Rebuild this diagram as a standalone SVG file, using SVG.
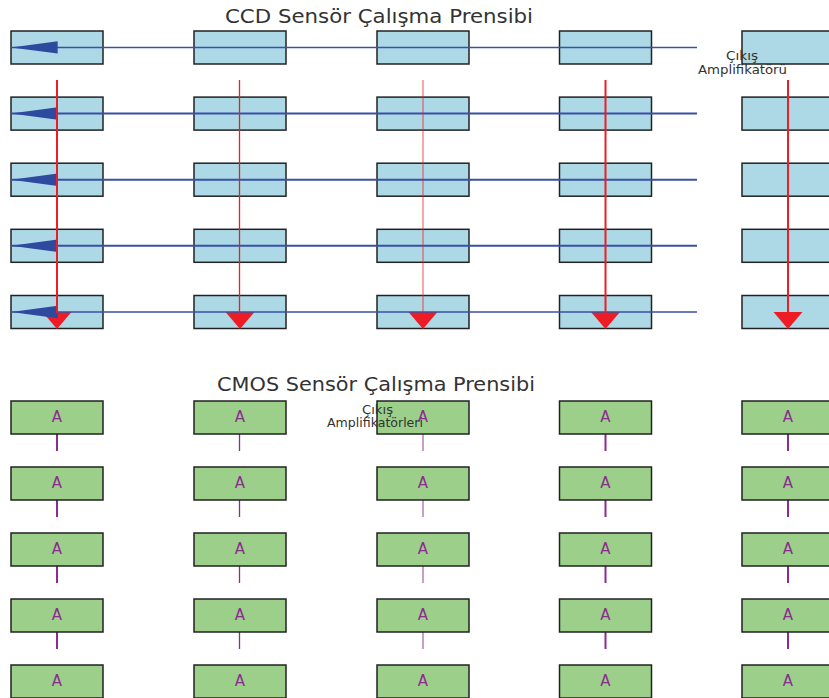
<svg xmlns="http://www.w3.org/2000/svg" width="829" height="698" viewBox="0 0 829 698">
<style>
.title{font-family:"DejaVu Sans",sans-serif;font-size:19px;fill:#333}
.lbl{font-family:"DejaVu Sans",sans-serif;font-size:12px;fill:#333}
.ccd{fill:#add8e6;stroke:#222;stroke-width:1.5}
.cmos{fill:#9ccf8a;stroke:#222;stroke-width:1.5}
.a{font-family:"DejaVu Sans",sans-serif;font-size:15px;fill:#8a2d8e;text-anchor:middle}
.bl{stroke:#3a4fa6;fill:none}
.bh{fill:#2e4a9e}
.rl{stroke:#ee1c25;fill:none}
.rh{fill:#ee1c25}
.pl{stroke:#8e2a90;fill:none}
</style>
<rect width="829" height="698" fill="#fff"/>
<text class="title" x="225" y="23" textLength="308" lengthAdjust="spacingAndGlyphs">CCD Sensör Çalışma Prensibi</text>
<text class="title" x="217" y="391" textLength="318" lengthAdjust="spacingAndGlyphs">CMOS Sensör Çalışma Prensibi</text>
<g id="ccd-nodes">
<g id="ccd-r1"><rect class="ccd" x="11" y="31" width="92" height="33"/><rect class="ccd" x="194" y="31" width="92" height="33"/><rect class="ccd" x="377" y="31" width="92" height="33"/><rect class="ccd" x="559.5" y="31" width="92" height="33"/><rect class="ccd" x="742" y="31" width="92" height="33"/></g>
<g id="ccd-r2"><rect class="ccd" x="11" y="97.1" width="92" height="33"/><rect class="ccd" x="194" y="97.1" width="92" height="33"/><rect class="ccd" x="377" y="97.1" width="92" height="33"/><rect class="ccd" x="559.5" y="97.1" width="92" height="33"/><rect class="ccd" x="742" y="97.1" width="92" height="33"/></g>
<g id="ccd-r3"><rect class="ccd" x="11" y="163.2" width="92" height="33"/><rect class="ccd" x="194" y="163.2" width="92" height="33"/><rect class="ccd" x="377" y="163.2" width="92" height="33"/><rect class="ccd" x="559.5" y="163.2" width="92" height="33"/><rect class="ccd" x="742" y="163.2" width="92" height="33"/></g>
<g id="ccd-r4"><rect class="ccd" x="11" y="229.3" width="92" height="33"/><rect class="ccd" x="194" y="229.3" width="92" height="33"/><rect class="ccd" x="377" y="229.3" width="92" height="33"/><rect class="ccd" x="559.5" y="229.3" width="92" height="33"/><rect class="ccd" x="742" y="229.3" width="92" height="33"/></g>
<g id="ccd-r5"><rect class="ccd" x="11" y="295.5" width="92" height="33"/><rect class="ccd" x="194" y="295.5" width="92" height="33"/><rect class="ccd" x="377" y="295.5" width="92" height="33"/><rect class="ccd" x="559.5" y="295.5" width="92" height="33"/><rect class="ccd" x="742" y="295.5" width="92" height="33"/></g>
</g>
<g id="connectors">
<g id="red-heads">
<polygon class="rh" points="42.5,312 71.5,312 57,329"/>
<polygon class="rh" points="225.5,312 254.5,312 240,329"/>
<polygon class="rh" points="408.5,312 437.5,312 423,329"/>
<polygon class="rh" points="591,312 620,312 605.5,329"/>
<polygon class="rh" points="773.5,312 802.5,312 788,329"/>
</g>
<g id="blue-arrows">
<line class="bl" x1="11" y1="47.5" x2="697" y2="47.5" stroke-width="1.3"/>
<line class="bl" x1="11" y1="113.6" x2="697" y2="113.6" stroke-width="2"/>
<line class="bl" x1="11" y1="179.7" x2="697" y2="179.7" stroke-width="2"/>
<line class="bl" x1="11" y1="245.8" x2="697" y2="245.8" stroke-width="2"/>
<line class="bl" x1="11" y1="312" x2="697" y2="312" stroke-width="1.6"/>
<polygon class="bh" points="11,47.5 57.7,41.2 57.7,53.6"/>
<polygon class="bh" points="11,113.6 57.7,107.3 57.7,119.8"/>
<polygon class="bh" points="11,179.7 57.7,173.4 57.7,185.9"/>
<polygon class="bh" points="11,245.8 57.7,239.5 57.7,252"/>
<polygon class="bh" points="11,312 57.7,305.7 57.7,318.2"/>
</g>
<g id="red-lines">
<line class="rl" x1="57" y1="80" x2="57" y2="313" stroke-width="2"/>
<line class="rl" x1="239.5" y1="80" x2="239.5" y2="313" stroke-width="1.3"/>
<line class="rl" x1="423" y1="80" x2="423" y2="313" stroke-width="1.3" stroke-opacity="0.6"/>
<line class="rl" x1="605.5" y1="80" x2="605.5" y2="313" stroke-width="2"/>
<line class="rl" x1="788" y1="80" x2="788" y2="313" stroke-width="2"/>
</g>
<g id="purple-lines">
<path class="pl" stroke-width="2" d="M57,434V451M57,500V517M57,566V583M57,632V649"/>
<path class="pl" stroke-width="1.3" d="M239.5,434V451M239.5,500V517M239.5,566V583M239.5,632V649"/>
<path class="pl" stroke-width="1.3" stroke-opacity="0.7" d="M423,434V451M423,500V517M423,566V583M423,632V649"/>
<path class="pl" stroke-width="2" d="M605.5,434V451M605.5,500V517M605.5,566V583M605.5,632V649"/>
<path class="pl" stroke-width="2" d="M788,434V451M788,500V517M788,566V583M788,632V649"/>
</g>
</g>
<g id="ccd-label"><text class="lbl" x="726" y="60" textLength="32" lengthAdjust="spacingAndGlyphs">Çıkış</text><text class="lbl" x="698" y="74" textLength="89" lengthAdjust="spacingAndGlyphs">Amplifikatörü</text></g>
<g id="cmos-nodes">
<g id="cmos-r1"><rect class="cmos" x="11" y="401" width="92" height="33"/><rect class="cmos" x="194" y="401" width="92" height="33"/><rect class="cmos" x="377" y="401" width="92" height="33"/><rect class="cmos" x="559.5" y="401" width="92" height="33"/><rect class="cmos" x="742" y="401" width="92" height="33"/></g>
<g id="cmos-r2"><rect class="cmos" x="11" y="467" width="92" height="33"/><rect class="cmos" x="194" y="467" width="92" height="33"/><rect class="cmos" x="377" y="467" width="92" height="33"/><rect class="cmos" x="559.5" y="467" width="92" height="33"/><rect class="cmos" x="742" y="467" width="92" height="33"/></g>
<g id="cmos-r3"><rect class="cmos" x="11" y="533" width="92" height="33"/><rect class="cmos" x="194" y="533" width="92" height="33"/><rect class="cmos" x="377" y="533" width="92" height="33"/><rect class="cmos" x="559.5" y="533" width="92" height="33"/><rect class="cmos" x="742" y="533" width="92" height="33"/></g>
<g id="cmos-r4"><rect class="cmos" x="11" y="599" width="92" height="33"/><rect class="cmos" x="194" y="599" width="92" height="33"/><rect class="cmos" x="377" y="599" width="92" height="33"/><rect class="cmos" x="559.5" y="599" width="92" height="33"/><rect class="cmos" x="742" y="599" width="92" height="33"/></g>
<g id="cmos-r5"><rect class="cmos" x="11" y="665" width="92" height="33"/><rect class="cmos" x="194" y="665" width="92" height="33"/><rect class="cmos" x="377" y="665" width="92" height="33"/><rect class="cmos" x="559.5" y="665" width="92" height="33"/><rect class="cmos" x="742" y="665" width="92" height="33"/></g>
</g>
<g id="cmos-label"><text class="lbl" x="362" y="414" textLength="31" lengthAdjust="spacingAndGlyphs">Çıkış</text><text class="lbl" x="327" y="427" textLength="96" lengthAdjust="spacingAndGlyphs">Amplifikatörleri</text></g>
<g id="cmos-text">
<text class="a" x="57" y="422">A</text><text class="a" x="240" y="422">A</text><text class="a" x="423" y="422">A</text><text class="a" x="605.5" y="422">A</text><text class="a" x="788" y="422">A</text>
<text class="a" x="57" y="488">A</text><text class="a" x="240" y="488">A</text><text class="a" x="423" y="488">A</text><text class="a" x="605.5" y="488">A</text><text class="a" x="788" y="488">A</text>
<text class="a" x="57" y="554">A</text><text class="a" x="240" y="554">A</text><text class="a" x="423" y="554">A</text><text class="a" x="605.5" y="554">A</text><text class="a" x="788" y="554">A</text>
<text class="a" x="57" y="620">A</text><text class="a" x="240" y="620">A</text><text class="a" x="423" y="620">A</text><text class="a" x="605.5" y="620">A</text><text class="a" x="788" y="620">A</text>
<text class="a" x="57" y="686">A</text><text class="a" x="240" y="686">A</text><text class="a" x="423" y="686">A</text><text class="a" x="605.5" y="686">A</text><text class="a" x="788" y="686">A</text>
</g>
</svg>
